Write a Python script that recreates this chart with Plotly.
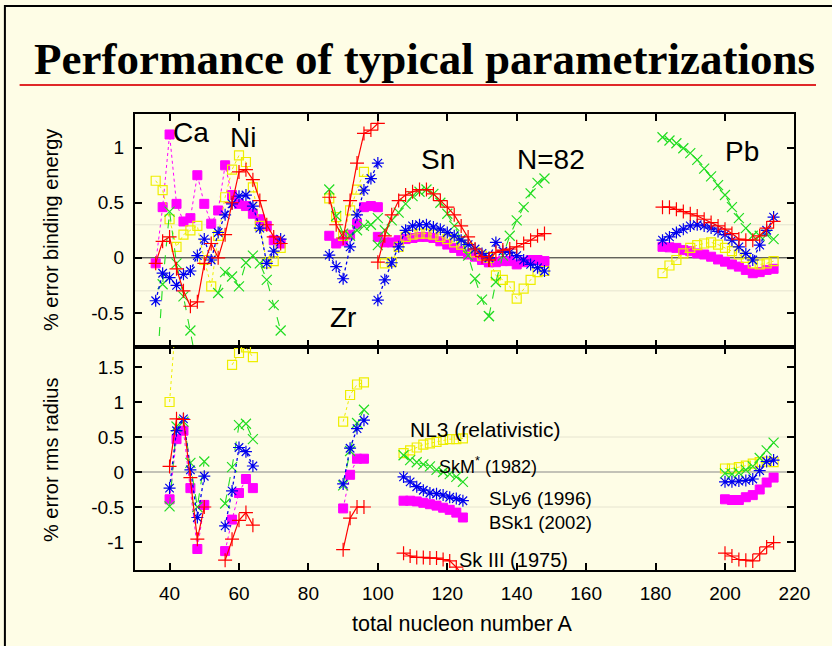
import plotly.graph_objects as go

# ---------------- DATA ----------------
# x ticks
X_TICKS = [40, 60, 80, 100, 120, 140, 160, 180, 200, 220]
Y_TICKS_BE = [-0.5, 0, 0.5, 1]
Y_TICKS_R = [-1, -0.5, 0, 0.5, 1, 1.5]

# ---- upper panel: % error binding energy ----
A_CANI = [36, 38, 40, 42, 44, 46, 48, 50, 52, 54, 56, 58, 60, 62, 64, 66, 68, 70, 72]
A_ZR = [86, 88, 90, 92, 94, 96, 98, 100]
A_SN = [100, 102, 104, 106, 108, 110, 112, 114, 116, 118, 120, 122, 124, 126, 128, 130, 132]
A_N82 = [132, 134, 136, 138, 140, 142, 144, 146, 148]
A_PB = [182, 184, 186, 188, 190, 192, 194, 196, 198, 200, 202, 204, 206, 208, 210, 212, 214]

BE_BSK1_CANI = [-0.05, 0.46, 1.12, 0.49, 0.33, 0.36, 0.75, 0.49, 0.31, 0.43, 0.84, 0.57, 0.49, 0.47, 0.40, 0.35, 0.29, 0.16, 0.13]
BE_SKIII_CANI = [-0.05, 0.15, 0.19, -0.10, -0.30, -0.44, -0.40, -0.05, 0.13, 0.00, 0.21, 0.50, 0.78, 0.80, 0.71, 0.52, 0.30, 0.19, 0.13]
BE_SLY6_CANI = [-0.39, -0.14, -0.18, -0.25, -0.15, -0.12, 0.02, 0.17, -0.02, 0.23, 0.39, 0.49, 0.56, 0.57, 0.47, 0.27, -0.05, 0.06, 0.17]
BE_NL3_CANI = [0.70, 0.615, 0.35, 0.10, 0.21, 0.25, 0.29, -0.02, -0.26, 0.20, 0.55, 0.80, 0.93, 0.87, 0.64, 0.29, -0.05, -0.03, 0.09]
BE_SKM_CANI = [-1.2, -0.24, 0.42, -0.05, -0.35, -0.66, -1.0, None, None, -0.32, -0.13, -0.17, -0.26, -0.045, 0.02, -0.05, -0.20, -0.43, -0.66]

BE_BSK1_ZR = [0.20, 0.13, 0.15, 0.21, 0.31, 0.46, 0.47, 0.46]
BE_SKIII_ZR = [0.55, 0.30, 0.18, 0.52, 0.86, 1.13, 1.16, 1.22]
BE_SLY6_ZR = [0.025, -0.08, -0.19, 0.10, 0.39, 0.615, 0.72, 0.86]
BE_NL3_ZR = [0.54, 0.37, 0.20, 0.43, 0.62, 0.78, None, None]
BE_SKM_ZR = [0.62, 0.38, 0.22, 0.20, 0.25, 0.29, 0.30, 0.36]

BE_BSK1_SN = [0.19, 0.14, 0.14, 0.16, 0.17, 0.18, 0.19, 0.19, 0.18, 0.15, 0.12, 0.09, 0.06, 0.03, 0.01, -0.02, -0.04]
BE_SKIII_SN = [-0.04, 0.20, 0.39, 0.52, 0.57, 0.60, 0.62, 0.62, 0.58, 0.52, 0.46, 0.39, 0.29, 0.19, 0.08, 0.01, -0.02]
BE_SLY6_SN = [-0.385, -0.20, -0.045, 0.10, 0.25, 0.29, 0.30, 0.30, 0.28, 0.26, 0.23, 0.20, 0.16, 0.12, 0.08, 0.04, 0.00]
BE_NL3_SN = [None, -0.05, -0.04, 0.10, 0.19, 0.21, 0.22, 0.22, 0.21, 0.19, 0.17, 0.14, 0.12, 0.09, 0.05, 0.02, 0.00]
BE_SKM_SN = [0.115, 0.25, 0.34, 0.41, 0.49, 0.56, 0.60, 0.62, 0.58, 0.50, 0.40, 0.29, 0.17, 0.02, -0.19, -0.38, -0.53]

BE_BSK1_N82 = [-0.04, -0.04, -0.03, -0.03, -0.06, -0.04, -0.02, -0.02, -0.03]
BE_SKIII_N82 = [-0.02, 0.05, 0.07, 0.08, 0.10, 0.13, 0.16, 0.20, 0.22]
BE_SLY6_N82 = [0.00, 0.14, 0.06, 0.05, 0.02, -0.02, -0.06, -0.09, -0.12]
BE_NL3_N82 = [0.00, -0.16, -0.20, -0.26, -0.37, -0.28, -0.20, -0.13, -0.12]
BE_SKM_N82 = [-0.53, -0.22, 0.02, 0.20, 0.34, 0.46, 0.585, 0.68, 0.72]

BE_BSK1_PB = [0.10, 0.095, 0.09, 0.07, 0.06, 0.04, 0.03, 0.01, -0.015, -0.035, -0.06, -0.08, -0.11, -0.14, -0.13, -0.11, -0.10]
BE_SKIII_PB = [0.46, 0.46, 0.44, 0.42, 0.40, 0.38, 0.35, 0.32, 0.29, 0.26, 0.22, 0.17, 0.16, 0.16, 0.20, 0.27, 0.33]
BE_SLY6_PB = [0.16, 0.19, 0.23, 0.26, 0.29, 0.30, 0.29, 0.27, 0.24, 0.21, 0.16, 0.10, 0.04, -0.02, 0.115, 0.25, 0.37]
BE_NL3_PB = [-0.14, -0.07, -0.02, 0.04, 0.09, 0.115, 0.13, 0.14, 0.12, 0.09, 0.06, 0.03, 0.00, -0.05, -0.06, -0.05, -0.03]
BE_SKM_PB = [1.095, 1.065, 1.04, 0.995, 0.95, 0.89, 0.81, 0.74, 0.66, 0.57, 0.46, 0.36, 0.27, 0.20, 0.20, 0.21, 0.17]

# ---- lower panel: % error rms radius ----
A_CA_R = [40, 42, 44, 46, 48, 50]
A_NI_R = [56, 58, 60, 62, 64]
A_ZR_R = [90, 92, 94, 96]
A_SN_R = [107.4, 109.3, 111.2, 113.1, 115.0, 116.9, 118.8, 120.7, 122.6, 124.5]
A_PB_R = [200, 202, 204, 206, 208, 210, 212, 214]

R_SKIII_CA = [0.08, 0.76, 0.75, -0.08, -0.96, -0.50]
R_SLY6_CA = [-0.23, 0.59, 0.76, 0.03, -0.65, -0.06]
R_BSK1_CA = [-0.39, 0.47, 0.59, -0.23, -1.10, -0.47]
R_SKM_CA = [-0.49, 0.65, 0.72, 0.13, -0.50, 0.15]
R_NL3_CA = [1.00, 2.30, None, None, None, None]

R_SKM_NI = [-0.45, 0.07, 0.67, 0.69, 0.47]
R_SLY6_NI = [-0.77, -0.27, 0.35, 0.29, 0.086]
R_BSK1_NI = [-1.13, -0.68, -0.30, -0.10, -0.23]
R_SKIII_NI = [-1.26, -0.96, -0.69, -0.58, -0.76]
R_NL3_NI = [None, 1.53, 1.70, 1.78, 1.64]

R_NL3_ZR = [0.72, 1.10, 1.25, 1.28]
R_SKM_ZR = [-0.19, 0.30, 0.70, 0.89]
R_SLY6_ZR = [-0.17, 0.34, 0.62, 0.74]
R_BSK1_ZR = [-0.52, -0.04, 0.19, 0.19]
R_SKIII_ZR = [-1.11, -0.66, -0.50, -0.50]

R_NL3_SN = [0.27, 0.31, 0.35, 0.39, 0.41, 0.43, 0.46, 0.47, 0.47, 0.48]
R_SKM_SN = [0.24, 0.17, 0.14, 0.11, 0.08, 0.03, 0.00, -0.03, -0.07, -0.14]
R_SLY6_SN = [-0.07, -0.14, -0.21, -0.26, -0.30, -0.31, -0.33, -0.36, -0.38, -0.41]
R_BSK1_SN = [-0.41, -0.41, -0.42, -0.44, -0.46, -0.48, -0.51, -0.54, -0.58, -0.65]
R_SKIII_SN = [-1.16, -1.20, -1.22, -1.22, -1.23, -1.23, -1.25, -1.27, -1.36, -1.48]

R_SKIII_PB = [-1.16, -1.20, -1.25, -1.26, -1.27, -1.17, -1.07, -1.01]
R_BSK1_PB = [-0.39, -0.40, -0.40, -0.36, -0.33, -0.25, -0.15, -0.08]
R_SLY6_PB = [-0.14, -0.14, -0.13, -0.12, -0.10, 0.02, 0.15, 0.17]
R_NL3_PB = [0.05, 0.05, 0.07, 0.09, 0.12, 0.14, 0.15, 0.14]
R_SKM_PB = [-0.02, -0.03, -0.01, 0.03, 0.08, 0.20, 0.31, 0.42]

REGION_LABELS = ["Ca", "Ni", "Sn", "N=82", "Pb", "Zr"]
SERIES_LABELS = ["NL3 (relativistic)", "SkM<sup>*</sup> (1982)", "SLy6 (1996)", "BSk1 (2002)", "Sk III (1975)"]

# ---------------- STYLE ----------------
W, H = 832, 646
BG = "#FEFDE6"
X0, X1 = 137.5, 810.0
UP_T, MID, LO_B = 114.0, 347.0, 570.0


def px(x):
    return x / W


def py(y):
    return 1 - y / H


def join(chains):
    xs, ys = [], []
    for a, v in chains:
        xs += list(a) + [None]
        ys += list(v) + [None]
    return xs, ys


STY = {
    "BSk1": dict(color="#FF00FF", symbol="square", size=9, dash="dot", lw=1.0, mlw=1.0),
    "NL3": dict(color="#EEEE00", symbol="square-open", size=9, dash="dot", lw=1.0, mlw=1.2),
    "SkM": dict(color="#22DD22", symbol="x-thin-open", size=10, dash="dash", lw=1.1, mlw=1.2),
    "SLy6": dict(color="#0000EE", symbol="asterisk-open", size=10, dash="dot", lw=1.3, mlw=1.2),
    "SkIII": dict(color="#FF0000", symbol="cross-thin-open", size=10, dash="solid", lw=1.2, mlw=1.2),
}

UPPER = {
    "BSk1": [(A_CANI, BE_BSK1_CANI), (A_ZR, BE_BSK1_ZR), (A_SN, BE_BSK1_SN), (A_N82, BE_BSK1_N82), (A_PB, BE_BSK1_PB)],
    "NL3": [(A_CANI, BE_NL3_CANI), (A_ZR, BE_NL3_ZR), (A_SN, BE_NL3_SN), (A_N82, BE_NL3_N82), (A_PB, BE_NL3_PB)],
    "SkM": [(A_CANI, BE_SKM_CANI), (A_ZR, BE_SKM_ZR), (A_SN, BE_SKM_SN), (A_N82, BE_SKM_N82), (A_PB, BE_SKM_PB)],
    "SLy6": [(A_CANI, BE_SLY6_CANI), (A_ZR, BE_SLY6_ZR), (A_SN, BE_SLY6_SN), (A_N82, BE_SLY6_N82), (A_PB, BE_SLY6_PB)],
    "SkIII": [(A_CANI, BE_SKIII_CANI), (A_ZR, BE_SKIII_ZR), (A_SN, BE_SKIII_SN), (A_N82, BE_SKIII_N82), (A_PB, BE_SKIII_PB)],
}
LOWER = {
    "BSk1": [(A_CA_R, R_BSK1_CA), (A_NI_R, R_BSK1_NI), (A_ZR_R, R_BSK1_ZR), (A_SN_R, R_BSK1_SN), (A_PB_R, R_BSK1_PB)],
    "NL3": [(A_CA_R, R_NL3_CA), (A_NI_R, R_NL3_NI), (A_ZR_R, R_NL3_ZR), (A_SN_R, R_NL3_SN), (A_PB_R, R_NL3_PB)],
    "SkM": [(A_CA_R, R_SKM_CA), (A_NI_R, R_SKM_NI), (A_ZR_R, R_SKM_ZR), (A_SN_R, R_SKM_SN), (A_PB_R, R_SKM_PB)],
    "SLy6": [(A_CA_R, R_SLY6_CA), (A_NI_R, R_SLY6_NI), (A_ZR_R, R_SLY6_ZR), (A_SN_R, R_SLY6_SN), (A_PB_R, R_SLY6_PB)],
    "SkIII": [(A_CA_R, R_SKIII_CA), (A_NI_R, R_SKIII_NI), (A_ZR_R, R_SKIII_ZR), (A_SN_R, R_SKIII_SN), (A_PB_R, R_SKIII_PB)],
}

fig = go.Figure()
for panel, xa, ya in ((UPPER, "x", "y"), (LOWER, "x2", "y2")):
    for name in ["BSk1", "NL3", "SkM", "SLy6", "SkIII"]:
        s = STY[name]
        xs, ys = join(panel[name])
        fig.add_trace(go.Scatter(
            x=xs, y=ys, xaxis=xa, yaxis=ya, mode="lines+markers",
            line=dict(color=s["color"], width=s["lw"], dash=s["dash"]),
            marker=dict(symbol=s["symbol"], size=s["size"], color=s["color"],
                        line=dict(color=s["color"], width=s["mlw"])),
            connectgaps=False, showlegend=False, hoverinfo="skip"))

axis_common = dict(showline=True, linewidth=2, linecolor="black", mirror="ticks",
                   ticks="inside", ticklen=7, tickwidth=1.5, tickcolor="black",
                   showgrid=False, zeroline=False,
                   tickfont=dict(family="Liberation Sans", size=19, color="black"))

fig.update_layout(
    width=W, height=H, margin=dict(l=0, r=0, t=0, b=0),
    paper_bgcolor=BG, plot_bgcolor=BG,
    xaxis=dict(domain=[px(X0), px(X1)], anchor="y", range=[30, 220], tickvals=X_TICKS,
               showticklabels=False, **axis_common),
    yaxis=dict(domain=[py(MID), py(UP_T)], anchor="x", range=[-0.81, 1.306],
               tickvals=Y_TICKS_BE, ticktext=["-0.5", "0", "0.5", "1"],
               ticklabelstandoff=5, **axis_common),
    xaxis2=dict(domain=[px(X0), px(X1)], anchor="y2", range=[30, 220], tickvals=X_TICKS,
                ticktext=[str(v) for v in X_TICKS], ticklabelstandoff=5, **axis_common),
    yaxis2=dict(domain=[py(LO_B), py(MID)], anchor="x2", range=[-1.4, 1.786],
                tickvals=Y_TICKS_R, ticktext=["-1", "-0.5", "0", "0.5", "1", "1.5"],
                ticklabelstandoff=5, **axis_common),
)

shapes = []
# faint guide lines
for v in (0.3, -0.3):
    shapes.append(dict(type="line", xref="x", yref="y", x0=30, x1=220, y0=v, y1=v,
                       line=dict(color="#E6E4D0", width=1), layer="below"))
for v in (0.5, -0.5):
    shapes.append(dict(type="line", xref="x2", yref="y2", x0=30, x1=220, y0=v, y1=v,
                       line=dict(color="#E6E4D0", width=1), layer="below"))
shapes.append(dict(type="line", xref="x", yref="y", x0=30, x1=220, y0=0, y1=0,
                   line=dict(color="#222222", width=1), layer="below"))
shapes.append(dict(type="line", xref="x2", yref="y2", x0=30, x1=220, y0=0, y1=0,
                   line=dict(color="#888888", width=1.2), layer="below"))
# title underline
shapes.append(dict(type="line", xref="paper", yref="paper", x0=px(20), x1=1.0, y0=py(85), y1=py(85),
                   line=dict(color="#E02828", width=2)))
# outer frame
shapes.append(dict(type="rect", xref="paper", yref="paper", x0=px(5), x1=1.05, y0=-0.05, y1=py(6),
                   line=dict(color="black", width=2)))
fig.update_layout(shapes=shapes)

ann = []
ann.append(dict(text="<b>Performance of typical parametrizations</b>", x=px(33), y=py(59),
                xref="paper", yref="paper", xanchor="left", yanchor="middle", showarrow=False,
                font=dict(family="Liberation Serif", size=45, color="black")))
region_pos = [(195, 132), (248, 137), (447, 160), (562, 160), (757, 151), (350, 317)]
for t, (x, y) in zip(REGION_LABELS, region_pos):
    ann.append(dict(text=t, x=px(x), y=py(y), xref="paper", yref="paper", xanchor="center",
                    yanchor="middle", showarrow=False,
                    font=dict(family="Liberation Sans", size=28, color="black")))
series_pos = [(416, 429), (446, 465), (497, 498), (497, 522), (466, 560)]
series_size = [21, 18, 19, 18.5, 20]
for t, (x, y), fs in zip(SERIES_LABELS, series_pos, series_size):
    ann.append(dict(text=t, x=px(x), y=py(y), xref="paper", yref="paper", xanchor="left",
                    yanchor="middle", showarrow=False,
                    font=dict(family="Liberation Sans", size=fs, color="black")))
ann.append(dict(text="% error binding energy", x=px(52), y=py(230), xref="paper", yref="paper",
                textangle=-90, showarrow=False, xanchor="center", yanchor="middle",
                font=dict(family="Liberation Sans", size=20, color="black")))
ann.append(dict(text="% error rms radius", x=px(52), y=py(460), xref="paper", yref="paper",
                textangle=-90, showarrow=False, xanchor="center", yanchor="middle",
                font=dict(family="Liberation Sans", size=20, color="black")))
ann.append(dict(text="total nucleon number A", x=px(472), y=py(624), xref="paper", yref="paper",
                showarrow=False, xanchor="center", yanchor="middle",
                font=dict(family="Liberation Sans", size=21.5, color="black")))
fig.update_layout(annotations=ann)

fig.write_html("out.html")
